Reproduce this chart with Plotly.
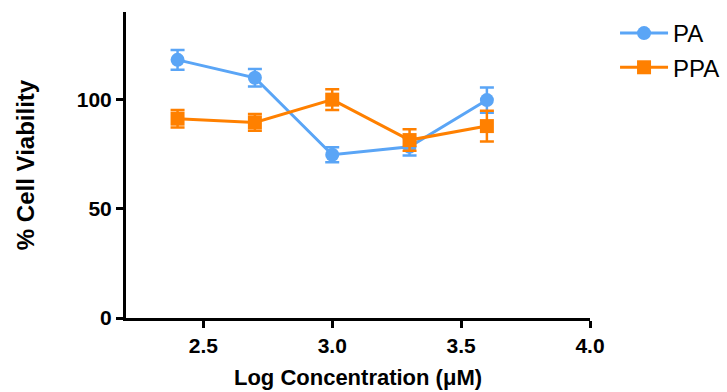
import plotly.graph_objects as go

log_conc = [2.4, 2.7, 3.0, 3.3, 3.6]
pa_values = [118.1, 109.9, 74.7, 78.3, 99.7]
pa_err = [4.5, 4.0, 3.4, 4.0, 5.8]
ppa_values = [91.2, 89.5, 99.9, 81.4, 87.8]
ppa_err = [4.0, 3.8, 4.7, 4.9, 7.0]
x_ticks = [2.5, 3.0, 3.5, 4.0]
y_ticks = [0, 50, 100]

BLUE = "#5aa5f6"
ORANGE = "#ff8000"
FONT = "Liberation Sans, Arial, sans-serif"

fig = go.Figure()
fig.add_trace(go.Scatter(
    x=log_conc, y=pa_values, name="PA", mode="lines+markers",
    line=dict(color=BLUE, width=3),
    marker=dict(symbol="circle", size=14, color=BLUE),
    error_y=dict(type="data", array=pa_err, color=BLUE, thickness=2.5, width=7),
    legendgroup="a",
))
fig.add_trace(go.Scatter(
    x=log_conc, y=ppa_values, name="PPA", mode="lines+markers",
    line=dict(color=ORANGE, width=3),
    marker=dict(symbol="square", size=14, color=ORANGE),
    error_y=dict(type="data", array=ppa_err, color=ORANGE, thickness=2.5, width=7),
    legendgroup="b",
))

fig.update_layout(
    width=727, height=392,
    margin=dict(l=126, r=137, t=12, b=74, autoexpand=False),
    plot_bgcolor="white", paper_bgcolor="white",
    font=dict(family=FONT, color="black"),
    showlegend=True,
    legend=dict(xref="container", yref="container", x=0.846, y=0.972,
                xanchor="left", yanchor="top",
                font=dict(size=24, family=FONT, color="black"),
                tracegroupgap=0, itemwidth=48),
    xaxis=dict(
        range=[2.2, 4.0], tickvals=x_ticks, ticktext=["2.5", "3.0", "3.5", "4.0"],
        showgrid=False, zeroline=False, showline=True, linecolor="black", linewidth=3,
        ticks="outside", ticklen=7, tickwidth=3, tickcolor="black", automargin=False,
        tickfont=dict(size=21, family=FONT, color="black", weight="bold"),
        title=dict(text="<b>Log Concentration (μM)</b>", font=dict(size=22, family=FONT), standoff=14),
    ),
    yaxis=dict(
        range=[0, 140], tickvals=y_ticks,
        showgrid=False, zeroline=False, showline=True, linecolor="black", linewidth=3,
        ticks="outside", ticklen=7, tickwidth=3, tickcolor="black", automargin=False,
        tickfont=dict(size=21, family=FONT, color="black", weight="bold"),
        title=dict(text="<b>% Cell Viability</b>", font=dict(size=24, family=FONT), standoff=36),
    ),
)

# remove the page's default body margin so the figure sits at the window origin
fig.write_html("out.html", config={"displayModeBar": False},
               post_script="document.body.style.margin='0px';document.body.style.overflow='hidden';")
